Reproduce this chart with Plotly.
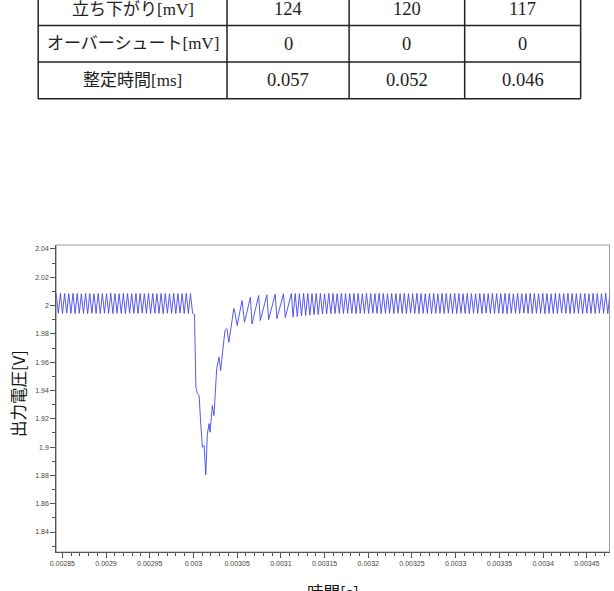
import numpy as np
import plotly.graph_objects as go

# ---------------- table data ----------------
TABLE_ROW_LABELS = ["立ち下がり[mV]", "オーバーシュート[mV]", "整定時間[ms]"]
TABLE_COL1 = ["124", "0", "0.057"]
TABLE_COL2 = ["120", "0", "0.052"]
TABLE_COL3 = ["117", "0", "0.046"]

# ---------------- waveform data ----------------
HALF_PERIOD = 2.4e-6  # ripple half period (sampling of peaks/troughs)

LEFT_T0 = 0.002843
LEFT_V = [
    2.0084, 1.9946, 2.0086, 1.9944, 2.0085, 1.9947, 2.0083, 1.9945, 2.0087, 1.9944,
    2.0085, 1.9946, 2.0084, 1.9945, 2.0086, 1.9943, 2.0085, 1.9946, 2.0083, 1.9945,
    2.0086, 1.9944, 2.0085, 1.9947, 2.0084, 1.9945, 2.0087, 1.9944, 2.0085, 1.9946,
    2.0084, 1.9945, 2.0086, 1.9943, 2.0085, 1.9946, 2.0083, 1.9945, 2.0086, 1.9944,
    2.0085, 1.9947, 2.0084, 1.9945, 2.0087, 1.9944, 2.0085, 1.9946, 2.0084, 1.9945,
    2.0086, 1.9943, 2.0085, 1.9946, 2.0083, 1.9945, 2.0086, 1.9944, 2.0085, 1.9947,
    2.0084, 1.9945, 2.0087, 1.9944, 2.0085, 1.9946,
]

TRANS_T = [
    0.0030012, 0.0030028, 0.0030045, 0.0030065, 0.0030085, 0.0030103, 0.0030122,
    0.0030141, 0.0030159, 0.0030179, 0.0030190, 0.0030216, 0.0030235, 0.0030266,
    0.0030292, 0.0030311, 0.0030360, 0.0030383, 0.0030405, 0.0030462, 0.0030475,
    0.0030500, 0.0030556, 0.0030584, 0.0030652, 0.0030670, 0.0030746, 0.0030765,
    0.0030840, 0.0030860, 0.0030935, 0.0030955, 0.0031030, 0.0031050, 0.0031120,
    0.0031140,
]
TRANS_V = [
    1.9935, 1.9423, 1.9380, 1.9364, 1.9150, 1.8999, 1.9011,
    1.8806, 1.9095, 1.9166, 1.9105, 1.9293, 1.9223, 1.9555,
    1.9635, 1.9541, 1.9823, 1.9837, 1.9741, 1.9979, 1.9950,
    1.9859, 2.0035, 1.9882, 2.0059, 1.9871, 2.0071, 1.9894,
    2.0076, 1.9900, 2.0080, 1.9908, 2.0083, 1.9915, 2.0085,
    1.9920,
]

RIGHT_T0 = 0.0031164
RIGHT_V = [
    2.0085, 1.9922, 2.0084, 1.9926, 2.0086, 1.9930, 2.0085, 1.9933, 2.0084, 1.9936,
    2.0086, 1.9938, 2.0085, 1.9940, 2.0083, 1.9942, 2.0086, 1.9943, 2.0085, 1.9944,
    2.0084, 1.9945, 2.0087, 1.9944, 2.0085, 1.9946, 2.0084, 1.9945, 2.0086, 1.9943,
    2.0085, 1.9946, 2.0083, 1.9945, 2.0086, 1.9944, 2.0085, 1.9947, 2.0084, 1.9945,
    2.0087, 1.9944, 2.0085, 1.9946, 2.0084, 1.9945, 2.0086, 1.9943, 2.0085, 1.9946,
    2.0083, 1.9945, 2.0086, 1.9944, 2.0085, 1.9947, 2.0084, 1.9945, 2.0087, 1.9944,
    2.0085, 1.9946, 2.0084, 1.9945, 2.0086, 1.9943, 2.0085, 1.9946, 2.0083, 1.9945,
    2.0086, 1.9944, 2.0085, 1.9947, 2.0084, 1.9945, 2.0087, 1.9944, 2.0085, 1.9946,
    2.0084, 1.9945, 2.0086, 1.9943, 2.0085, 1.9946, 2.0083, 1.9945, 2.0086, 1.9944,
    2.0085, 1.9947, 2.0084, 1.9945, 2.0087, 1.9944, 2.0085, 1.9946, 2.0084, 1.9945,
    2.0086, 1.9943, 2.0085, 1.9946, 2.0083, 1.9945, 2.0086, 1.9944, 2.0085, 1.9947,
    2.0084, 1.9945, 2.0087, 1.9944, 2.0085, 1.9946, 2.0084, 1.9945, 2.0086, 1.9943,
    2.0085, 1.9946, 2.0083, 1.9945, 2.0086, 1.9944, 2.0085, 1.9947, 2.0084, 1.9945,
    2.0087, 1.9944, 2.0085, 1.9946, 2.0084, 1.9945, 2.0086, 1.9943, 2.0085, 1.9946,
    2.0083, 1.9945, 2.0086, 1.9944, 2.0085, 1.9947, 2.0084, 1.9945, 2.0087, 1.9944,
    2.0085,
]

X_TICKS = [0.00285, 0.0029, 0.00295, 0.003, 0.00305, 0.0031, 0.00315, 0.0032,
           0.00325, 0.0033, 0.00335, 0.0034, 0.00345]
X_TICK_LABELS = ["0.00285", "0.0029", "0.00295", "0.003", "0.00305", "0.0031",
                 "0.00315", "0.0032", "0.00325", "0.0033", "0.00335", "0.0034",
                 "0.00345"]
Y_TICKS = [1.84, 1.86, 1.88, 1.9, 1.92, 1.94, 1.96, 1.98, 2.0, 2.02, 2.04]
Y_TICK_LABELS = ["1.84", "1.86", "1.88", "1.9", "1.92", "1.94", "1.96", "1.98",
                 "2", "2.02", "2.04"]

# assemble the trace
left_t = LEFT_T0 + HALF_PERIOD * np.arange(len(LEFT_V))
right_t = RIGHT_T0 + HALF_PERIOD * np.arange(len(RIGHT_V))
t_all = np.concatenate([left_t, np.array(TRANS_T), right_t])
v_all = np.concatenate([np.array(LEFT_V), np.array(TRANS_V), np.array(RIGHT_V)])

W, H = 614, 591
SERIF = "'Liberation Serif', 'Noto Sans CJK JP', serif"
CJK = "'Noto Sans CJK JP', sans-serif"
SANS = "'Liberation Sans', Arial, sans-serif"

# table layout (page pixels); the top row is partly above the page
COL_EDGES = [32.5, 223.2, 346.5, 463.2, 580.3]
ROW_EDGES = [-7.0, 25.4, 62.0, 98.7]


def px(x):
    return x / W


def py(y):
    return 1 - y / H


table_cols = [TABLE_ROW_LABELS, TABLE_COL1, TABLE_COL2, TABLE_COL3]
shapes = []
annotations = []
for y in ROW_EDGES:
    shapes.append(dict(type="line", xref="paper", yref="paper",
                       x0=px(COL_EDGES[0]), x1=px(COL_EDGES[-1]), y0=py(y), y1=py(y),
                       line=dict(color="#222", width=1.5)))
for x in COL_EDGES:
    shapes.append(dict(type="line", xref="paper", yref="paper",
                       x0=px(x), x1=px(x), y0=py(ROW_EDGES[0]), y1=py(ROW_EDGES[-1]),
                       line=dict(color="#222", width=1.5)))
for c, col in enumerate(table_cols):
    xc = (COL_EDGES[c] + COL_EDGES[c + 1]) / 2
    size = 17 if c == 0 else 18.5
    for r, txt in enumerate(col):
        yc = (ROW_EDGES[r] + ROW_EDGES[r + 1]) / 2
        annotations.append(dict(text=txt, xref="paper", yref="paper",
                                x=px(xc), y=py(yc), xanchor="center", yanchor="middle",
                                showarrow=False,
                                font=dict(family=SERIF, size=size, color="#222")))

fig = go.Figure()

fig.add_trace(go.Scatter(
    x=t_all, y=v_all, mode="lines",
    line=dict(color="#4646ee", width=0.9),
    showlegend=False, hoverinfo="skip",
))

x0, x1 = 50.7 / W, 609.5 / W
y0, y1 = (H - 552) / H, (H - 245) / H

shapes.append(dict(type="rect", xref="x domain", yref="y domain",
                   x0=0, x1=1, y0=0, y1=1,
                   line=dict(color="#999", width=1), fillcolor="rgba(0,0,0,0)",
                   layer="below"))
annotations += [
    dict(text="出力電圧[V]", xref="paper", yref="paper",
         x=px(12), y=py(393), xanchor="center", yanchor="middle",
         textangle=-90, showarrow=False,
         font=dict(family=CJK, size=16.5, color="#111")),
    dict(text="時間[s]", xref="paper", yref="paper",
         x=px(330), y=py(578), xanchor="center", yanchor="top",
         showarrow=False,
         font=dict(family=CJK, size=16.5, color="#111")),
]

fig.update_layout(
    width=W, height=H,
    margin=dict(l=0, r=0, t=0, b=0),
    paper_bgcolor="white", plot_bgcolor="white",
    showlegend=False,
    xaxis=dict(
        domain=[x0, x1], range=[0.002843, 0.003476],
        tickmode="array", tickvals=X_TICKS, ticktext=X_TICK_LABELS,
        ticks="outside", ticklen=5, tickwidth=1, tickcolor="#555",
        showline=True, linecolor="#555", linewidth=1, mirror=False,
        showgrid=False, zeroline=False,
        tickfont=dict(family=SANS, size=7, color="#444"),
        minor=dict(tickmode="linear", tick0=0.00285, dtick=0.00001,
                   ticks="outside", ticklen=3, tickcolor="#555", showgrid=False),
    ),
    yaxis=dict(
        domain=[y0, y1], range=[1.8259, 2.0428],
        tickmode="array", tickvals=Y_TICKS, ticktext=Y_TICK_LABELS,
        ticks="outside", ticklen=5, tickwidth=1, tickcolor="#555",
        showline=True, linecolor="#555", linewidth=1, mirror=False,
        showgrid=False, zeroline=False,
        tickfont=dict(family=SANS, size=7, color="#444"),
        minor=dict(tickmode="linear", tick0=1.84, dtick=0.01,
                   ticks="outside", ticklen=3, tickcolor="#555", showgrid=False),
    ),
    shapes=shapes,
    annotations=annotations,
)

fig.write_html("out.html")
